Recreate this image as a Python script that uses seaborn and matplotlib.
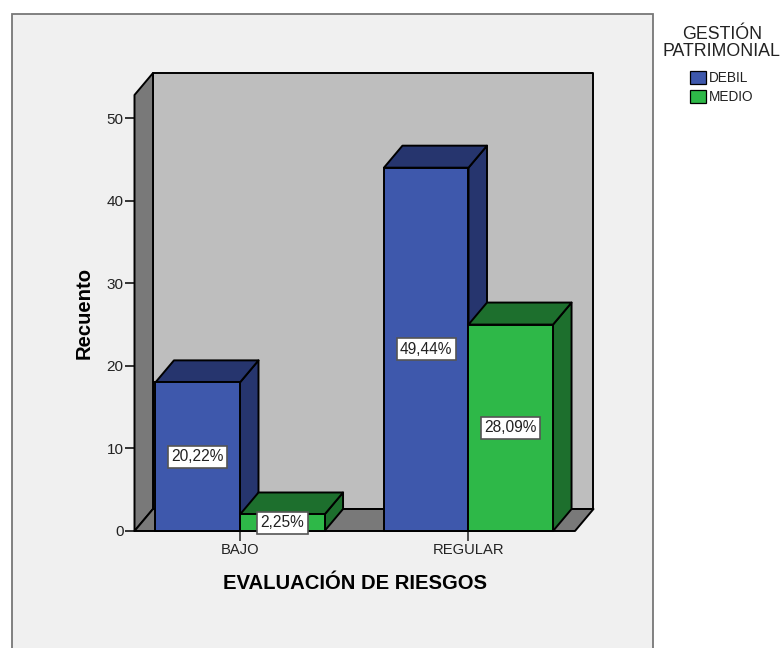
import matplotlib
matplotlib.use('Agg')
import matplotlib.pyplot as plt
import pandas as pd
import seaborn as sns
from matplotlib.patches import Polygon, Rectangle

# Values
categories = ['BAJO', 'REGULAR']
groups = ['DEBIL', 'MEDIO']
debil_counts = [18, 44]
medio_counts = [2, 25]
debil_labels = ['20,22%', '49,44%']
medio_labels = ['2,25%', '28,09%']
y_ticks = [0, 10, 20, 30, 40, 50]

FRONT = {'DEBIL': '#3E58AC', 'MEDIO': '#2EB848'}
DARK = {'DEBIL': '#26356E', 'MEDIO': '#1D6F2D'}

sns.set_style('white')
plt.rcParams['font.family'] = ['Liberation Sans', 'DejaVu Sans']

W, H = 783, 648
fig = plt.figure(figsize=(W / 100, H / 100), dpi=100, facecolor='white')

# grey chart panel, its lower edge runs off the picture
fig.add_artist(Rectangle((11.5 / W, -0.05), 641.5 / W, (H - 14) / H + 0.05, transform=fig.transFigure,
                         facecolor='#F0F0F0', edgecolor='#777777', linewidth=1.3, zorder=-1))

ax = fig.add_axes([134.5 / W, (H - 531) / H, 440.5 / W, 436 / H])
ax.patch.set_alpha(0)

data = pd.DataFrame({
    'categoria': categories * 2,
    'grupo': [groups[0]] * 2 + [groups[1]] * 2,
    'recuento': debil_counts + medio_counts,
})
sns.barplot(data=data, x='categoria', y='recuento', hue='grupo', hue_order=groups, palette=FRONT,
            width=0.74, saturation=1, edgecolor='black', linewidth=1.4, ax=ax, legend=False)

ax.set_xlim(-0.4617, 1.4661)
ax.set_ylim(0, 52.8)

# depth of the 3D effect in data units
dx = 18.5 / 228.5
dy = 22 / 8.26
x0, x1 = ax.get_xlim()
y0, y1 = ax.get_ylim()


def face(points, color, z):
    ax.add_patch(Polygon(points, closed=True, facecolor=color, edgecolor='black', linewidth=1.4,
                         joinstyle='round', clip_on=False, zorder=z))


# walls and floor
face([(x0 + dx, dy), (x1 + dx, dy), (x1 + dx, y1 + dy), (x0 + dx, y1 + dy)], '#BEBEBE', 0.5)
face([(x0, y0), (x0 + dx, dy), (x0 + dx, y1 + dy), (x0, y1)], '#797979', 0.6)
face([(x0, y0), (x1, y0), (x1 + dx, dy), (x0 + dx, dy)], '#797979', 0.6)

# sides and tops of the bars, left to right so nearer bars cover farther ones
bars = []
for group, container, labels in zip(groups, ax.containers, [debil_labels, medio_labels]):
    for bar, label in zip(container, labels):
        bars.append((bar.get_x(), bar, group, label))
bars.sort(key=lambda item: item[0])

for i, (left, bar, group, label) in enumerate(bars):
    z = 2 + i
    right = left + bar.get_width()
    top = bar.get_height()
    bar.set_zorder(z + 0.2)
    bar.set_clip_on(False)
    face([(right, 0), (right + dx, dy), (right + dx, top + dy), (right, top)], DARK[group], z)
    face([(left, top), (right, top), (right + dx, top + dy), (left + dx, top + dy)], DARK[group], z)

for left, bar, group, label in bars:
    ax.text(left + bar.get_width() / 2, bar.get_height() / 2, label, ha='center', va='center', fontsize=11.2,
            color='#222222', zorder=20, clip_on=False,
            bbox=dict(boxstyle='square,pad=0.22', facecolor='white', edgecolor='#555555', linewidth=1.2))

sns.despine(ax=ax, left=True, bottom=True)
ax.set_yticks(y_ticks)
ax.tick_params(axis='y', length=7, width=1.1, color='black', labelsize=11, labelcolor='#222222', pad=1, left=True)
ax.tick_params(axis='x', length=7, width=1.1, color='#222222', labelsize=10.6, labelcolor='#222222', pad=2, bottom=True)
ax.set_xlabel('EVALUACIÓN DE RIESGOS', fontsize=14.6, fontweight='bold', color='black', labelpad=12)
ax.set_ylabel('Recuento', fontsize=14.6, fontweight='bold', color='black', labelpad=9)

# legend
handles = [Rectangle((0, 0), 1, 1, facecolor=FRONT[g], edgecolor='black', linewidth=0.9) for g in groups]
leg = fig.legend(handles, groups, title='GESTIÓN\nPATRIMONIAL', loc='upper left',
                 bbox_to_anchor=(652 / W, 1 - 15 / H), frameon=False, fontsize=9.8, title_fontsize=12.8,
                 handlelength=1.15, handleheight=1.1, handletextpad=0.2, labelspacing=0.35, borderpad=0.3)
leg._legend_box.sep = 8
leg.get_title().set_multialignment('center')
leg.get_title().set_linespacing(1.0)
leg.get_title().set_color('#222222')
for t in leg.get_texts():
    t.set_color('#222222')

fig.savefig('out.png', dpi=100)
